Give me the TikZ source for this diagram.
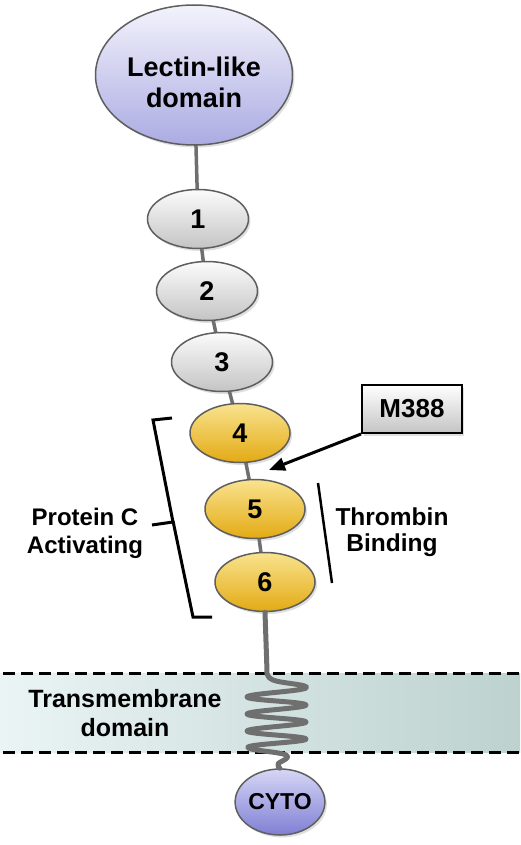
\documentclass[tikz,border=0pt]{standalone}
\usepackage{fontspec}
\setmainfont{Liberation Sans}
\usetikzlibrary{shapes.geometric,shadows,backgrounds,arrows.meta}
\definecolor{edge}{HTML}{5E5E5E}
\definecolor{stemc}{HTML}{6F6F6F}
\definecolor{lavtop}{HTML}{F3F3FC}
\definecolor{lavbot}{HTML}{ABABE3}
\definecolor{greytop}{HTML}{FBFBFB}
\definecolor{greybot}{HTML}{C4C4C4}
\definecolor{goldtop}{HTML}{F9E38E}
\definecolor{goldbot}{HTML}{E3AA14}
\definecolor{cytotop}{HTML}{D6D6F6}
\definecolor{cytobot}{HTML}{7F7FD4}
\definecolor{memleft}{HTML}{EAF4F4}
\definecolor{memright}{HTML}{BDD2CF}
\begin{document}
\begin{tikzpicture}[x=1pt,y=-1pt,
  softshadow/.style={drop shadow={shadow xshift=2pt, shadow yshift=-2.5pt, opacity=0.25}},
  dom/.style={ellipse, draw=edge, line width=1.5pt, inner sep=0pt,
    font=\bfseries\fontsize{27}{27}\selectfont, softshadow},
  greydom/.style={dom, minimum width=101pt, minimum height=59pt,
    top color=greytop, bottom color=greybot},
  golddom/.style={dom, minimum width=100pt, minimum height=59pt,
    top color=goldtop, bottom color=goldbot},
  stem/.style={draw=stemc, line width=3.5pt},
  coil/.style={draw=stemc, line width=5pt, line join=round, line cap=round},
  lbl/.style={align=center, inner sep=0pt, font=\bfseries\fontsize{24}{28}\selectfont},
  membrane/.style={line width=3pt, dash pattern=on 12pt off 6pt},
  bracketline/.style={line width=3pt, line join=miter},
]
\useasboundingbox (0,0) rectangle (520,845);

% domains
\node[dom, minimum width=197pt, minimum height=140pt, top color=lavtop, bottom color=lavbot] (L) at (194,75) {};
\node[lbl, font=\bfseries\fontsize{27}{31}\selectfont] (Ltxt) at (194,82.5) {Lectin-like\\domain};
\node[greydom] (e1) at (198,219) {1};
\node[greydom] (e2) at (207,291) {2};
\node[greydom] (e3) at (222,362) {3};
\node[golddom] (e4) at (240,433) {4};
\node[golddom] (e5) at (255,509) {5};
\node[golddom] (e6) at (265,582) {6};
\node[dom, minimum width=80pt, minimum height=66pt, top color=cytotop, bottom color=cytobot,
      font=\bfseries\fontsize{23}{23}\selectfont] (cyto) at (280,802) {CYTO};

% M388 box
\node[draw=black, line width=2pt, top color=white, bottom color=greybot,
      minimum width=100pt, minimum height=48pt, inner sep=0pt,
      font=\bfseries\fontsize{26}{26}\selectfont, softshadow] (m388) at (412,409) {M388};
\coordinate (tip) at (269,470);

% background: membrane and stems
\begin{scope}[on background layer]
  \shade[left color=memleft, right color=memright] (0,673) rectangle (520,752);
  \draw[stem] (L.center) -- (e1.center) -- (e2.center) -- (e3.center)
              -- (e4.center) -- (e5.center) -- (e6.center);
\end{scope}

% membrane borders
\draw[membrane] (3,673) -- (520,673);
\draw[membrane] (3,752) -- (520,752);

% transmembrane coil
\draw[coil] (e6.south) -- (267,671)
  plot[smooth, tension=0.7] coordinates {(267,671) (273,680) (306,688) (247,697) (306,705)
     (247,714) (306,722) (247,731) (306,739) (248,747) (286,755) (278,764) (cyto.north)};

% arrow from M388
\draw[line width=3pt, -{Triangle[length=16pt,width=13pt]}] (m388.south west) -- (tip);

% bracket: Protein C activating
\draw[bracketline] (172,418) -- (153,420) -- (173,522) -- (152,525);
\draw[bracketline] (173,521) -- (193,617) -- (212,617);

% thrombin binding line
\draw[line width=2.5pt] (318,483) -- (332,583);

% labels
\node[lbl] (pca) at (85,533) {Protein C\\Activating};
\node[lbl, font=\bfseries\fontsize{24.5}{26}\selectfont] (tb) at (392,532) {Thrombin\\Binding};
\node[lbl, font=\bfseries\fontsize{25}{29}\selectfont] (tm) at (125,713.5) {Transmembrane\\domain};
\end{tikzpicture}
\end{document}
